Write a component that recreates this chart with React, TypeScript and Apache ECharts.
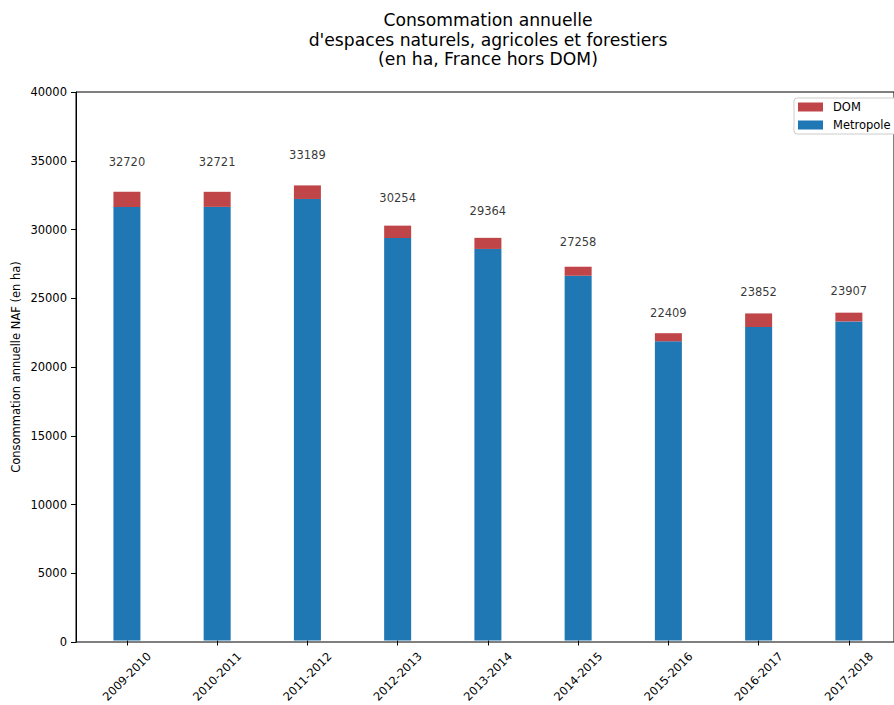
import React, { useEffect, useRef } from "react";
import * as echarts from "echarts";

const categories = [
  "2009-2010", "2010-2011", "2011-2012", "2012-2013", "2013-2014",
  "2014-2015", "2015-2016", "2016-2017", "2017-2018",
];
const totals = [32720, 32721, 33189, 30254, 29364, 27258, 22409, 23852, 23907];
const metropole = [31620, 31621, 32199, 29354, 28554, 26598, 21819, 22862, 23267];
const dom = [1100, 1100, 990, 900, 810, 660, 590, 990, 640];

const FONT = "DejaVu Sans";
const BLUE = "#1f77b4";
const RED = "#c04548";

export default function App() {
  const ref = useRef<HTMLDivElement>(null);
  useEffect(() => {
    if (!ref.current) return;
    const chart = echarts.init(ref.current, undefined, { renderer: "svg" });
    chart.setOption({
      animation: false,
      backgroundColor: "#fff",
      textStyle: { fontFamily: FONT },
      grid: [
        {
          left: 76, top: 92, width: 831, height: 550,
          show: true, borderColor: "#000", borderWidth: 1, backgroundColor: "transparent",
        },
        { left: 81.8, top: 92, width: 819, height: 550 },
      ],
      legend: {
        data: ["DOM", "Metropole"],
        orient: "vertical",
        left: 794, top: 98,
        itemWidth: 25, itemHeight: 9, itemGap: 6,
        padding: [3, 16, 3, 4],
        backgroundColor: "#fff",
        borderColor: "#cccccc", borderWidth: 1, borderRadius: 3,
        icon: "rect",
        textStyle: { fontFamily: FONT, fontSize: 11.5, color: "#000", padding: [0, 0, 0, 5] },
      },
      xAxis: [
        {
          gridIndex: 0, type: "value", min: 0, max: 1,
          show: false,
        },
        {
          gridIndex: 1, type: "category", data: categories, boundaryGap: true,
          axisLine: { show: false },
          axisTick: { show: true, length: 5, alignWithLabel: true, lineStyle: { color: "#000" } },
          axisLabel: {
            interval: 0,
            rotate: 45,
            align: "center",
            verticalAlign: "middle",
            margin: 36,
            fontFamily: FONT, fontSize: 11.5, color: "#000",
          },
        },
      ],
      yAxis: [
        {
          gridIndex: 0, type: "value", min: 0, max: 40000, interval: 5000,
          splitLine: { show: false },
          axisLine: { show: true, onZero: false, lineStyle: { color: "#000", width: 1 } },
          axisTick: { show: true, length: 5, lineStyle: { color: "#000" } },
          axisLabel: {
            fontFamily: FONT, fontSize: 11.5, color: "#000", margin: 9,
            formatter: (v: number) => String(v),
          },
        },
        {
          gridIndex: 1, type: "value", min: 0, max: 40000, interval: 5000,
          show: false,
        },
      ],
      graphic: [
        {
          type: "text", x: 488, y: 10.25,
          style: {
            text: "Consommation annuelle\nd'espaces naturels, agricoles et forestiers\n(en ha, France hors DOM)",
            fontFamily: FONT, fontSize: 17.2, lineHeight: 19.5, fill: "#000",
            textAlign: "center", textVerticalAlign: "top",
          },
        },
        {
          type: "text", x: 16, y: 367, rotation: Math.PI / 2,
          style: {
            text: "Consommation annuelle NAF (en ha)",
            fontFamily: FONT, fontSize: 11.5, fill: "#000",
            textAlign: "center", textVerticalAlign: "middle",
          },
        },
      ],
      series: [
        {
          name: "Metropole", type: "bar", stack: "total", barWidth: 27,
          xAxisIndex: 1, yAxisIndex: 1,
          itemStyle: { color: BLUE },
          data: metropole,
        },
        {
          name: "DOM", type: "bar", stack: "total", barWidth: 27,
          xAxisIndex: 1, yAxisIndex: 1,
          itemStyle: { color: RED },
          data: dom,
        },
        {
          name: "labels", type: "scatter", symbolSize: 1,
          xAxisIndex: 1, yAxisIndex: 1,
          itemStyle: { color: "rgba(0,0,0,0)" },
          silent: true,
          label: {
            show: true, position: "inside", fontFamily: FONT, fontSize: 11.5, color: "#000",
            formatter: (p: any) => String(totals[p.dataIndex]),
          },
          data: totals.map((t) => t * 1.067),
        },
      ],
    });
    return () => chart.dispose();
  }, []);
  return (
    <div
      ref={ref}
      style={{ position: "fixed", left: 0, top: 0, width: 894, height: 705 }}
    />
  );
}
